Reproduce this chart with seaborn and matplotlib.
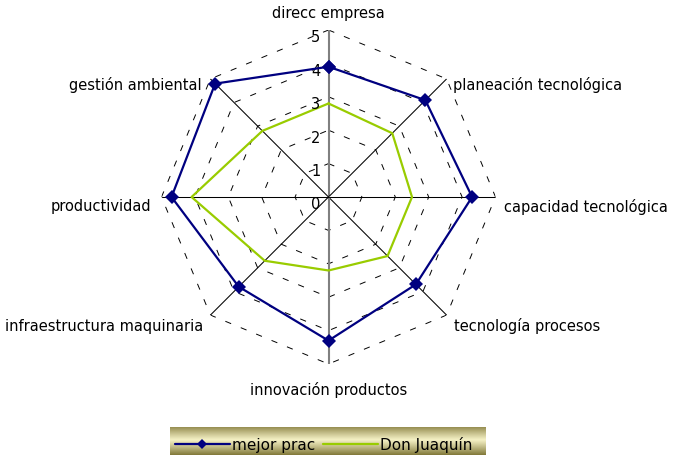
import numpy as np
import pandas as pd
import matplotlib
matplotlib.use('Agg')
import matplotlib.pyplot as plt
import seaborn as sns

categorias = ['direcc empresa', 'planeación tecnológica', 'capacidad tecnológica',
              'tecnología procesos', 'innovación productos', 'infraestructura maquinaria',
              'productividad', 'gestión ambiental']
mejor_prac = [3.9, 4.1, 4.3, 3.7, 4.3, 3.8, 4.7, 4.8]
don_juaquin = [2.8, 2.7, 2.5, 2.5, 2.2, 2.7, 4.1, 2.8]
niveles = [0, 1, 2, 3, 4, 5]

sns.set_style('white')
plt.rcParams['font.family'] = ['DejaVu Sans']
plt.rcParams['text.color'] = 'black'
plt.rcParams['lines.scale_dashes'] = False

n = len(categorias)
theta = np.arange(n) * 2 * np.pi / n
# cerrar el poligono repitiendo el primer punto
df = pd.DataFrame({'theta': np.append(theta, 2 * np.pi),
                   'mejor prac': mejor_prac + mejor_prac[:1],
                   'Don Juaquín': don_juaquin + don_juaquin[:1]})

W, H = 677, 456
fig = plt.figure(figsize=(W / 100, H / 100), dpi=100)
cx, cy, R = 328.5, 198, 167
ax = fig.add_axes([(cx - R) / W, (H - cy - R) / H, 2 * R / W, 2 * R / H], projection='polar')
ax.set_theta_zero_location('N')
ax.set_theta_direction(-1)
ax.grid(False)
ax.spines['polar'].set_visible(False)
ax.patch.set_alpha(0)

# rejilla octogonal discontinua
for r in niveles[1:]:
    ax.plot(df['theta'], [r] * (n + 1), color='black', lw=0.7, ls=(0, (4.5, 7.5)), zorder=1)
for i, t in enumerate(theta):
    gris = i in (0, 4)
    ax.plot([t, t], [0, 5], color='#808080' if gris else 'black',
            lw=1.5 if gris else 0.75, zorder=1)

sns.lineplot(data=df, x='theta', y='Don Juaquín', sort=False, estimator=None,
             color='#99CC00', lw=1.6, ax=ax, label='Don Juaquín', legend=False, zorder=3)
sns.lineplot(data=df, x='theta', y='mejor prac', sort=False, estimator=None,
             color='#000080', lw=1.6, marker='D', markersize=7, markeredgewidth=0,
             ax=ax, label='mejor prac', legend=False, zorder=4)

ax.set_ylim(0, 5)
ax.set_xticks([])
ax.set_yticks([])
ax.set_xlabel('')
ax.set_ylabel('')

for r in niveles:
    ax.annotate(str(r), xy=(0, r), xytext=(-8, -7), textcoords='offset pixels',
                ha='right', va='center', fontsize=10.5)

desplaz = [(0, 17, 'center'), (6, -5, 'left'), (8, -9, 'left'), (7, -10, 'left'),
           (0, -25, 'center'), (-7, -10, 'right'), (-10, -9, 'right'), (-9, -5, 'right')]
for t, nombre, (dx, dy, ha) in zip(theta, categorias, desplaz):
    ax.annotate(nombre, xy=(t, 5), xytext=(dx, dy), textcoords='offset pixels',
                ha=ha, va='center', fontsize=10.5, annotation_clip=False)

# leyenda con fondo degradado
lx0, lx1, ly0 = 170, 486, 428
gax = fig.add_axes([lx0 / W, 0, (lx1 - lx0) / W, (H - ly0) / H])
g = np.abs(np.linspace(-1, 1.2, 100)) ** 1.1
base = np.array([244, 240, 196]) / 255
oscuro = np.array([150, 142, 82]) / 255
img = base[None, :] * (1 - g[:, None]) + oscuro[None, :] * g[:, None]
gax.imshow(np.repeat(img[:, None, :], 10, axis=1), aspect='auto', extent=[0, 1, 0, 1])
gax.set_axis_off()

lineas = ax.get_lines()
handles = [lineas[-1], lineas[-2]]
leg = fig.legend(handles, ['mejor prac', 'Don Juaquín'], loc='center left',
                 bbox_to_anchor=(lx0 / W, 1 - 445 / H), ncol=2, frameon=False,
                 fontsize=11, handlelength=3.6, handletextpad=0.15, columnspacing=0.5,
                 borderaxespad=0, borderpad=0.3, markerscale=0.75)
fig.savefig('out.png', dpi=100)
